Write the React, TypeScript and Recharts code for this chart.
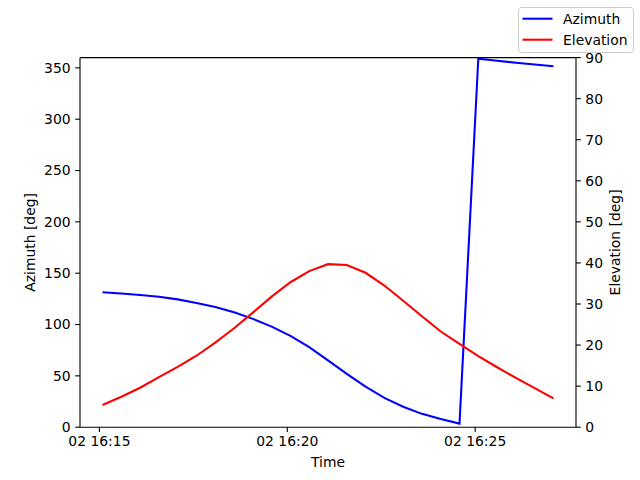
import { LineChart, Line, XAxis, YAxis, ReferenceLine, Legend } from 'recharts'

// sample times (one every 30 s) on day 02
const times = [
  '16:15:05', '16:15:35', '16:16:05', '16:16:35', '16:17:05', '16:17:35', '16:18:05',
  '16:18:35', '16:19:05', '16:19:35', '16:20:05', '16:20:35', '16:21:05', '16:21:35',
  '16:22:05', '16:22:35', '16:23:05', '16:23:35', '16:24:05', '16:24:35', '16:25:05',
  '16:25:35', '16:26:05', '16:26:35', '16:27:05',
]
const azimuth = [
  131.5, 130.3, 128.8, 127, 124.5, 121, 117, 112, 105.5, 98, 89, 78, 65, 52, 39.5,
  28.5, 20, 13, 8, 3.5, 359, 357, 355, 353.3, 351.5,
]
const elevation = [
  5.4, 7.4, 9.6, 12.2, 14.7, 17.4, 20.6, 24.1, 27.9, 31.8, 35.3, 38.0, 39.7, 39.5,
  37.6, 34.5, 30.8, 27.0, 23.3, 20.3, 17.3, 14.6, 12.0, 9.5, 7.0,
]
const timeTicks = [0, 5, 10] // minutes after 16:15
const timeTickLabels = ['02 16:15', '02 16:20', '02 16:25']
const azimuthTicks = [0, 50, 100, 150, 200, 250, 300, 350]
const elevationTicks = [0, 10, 20, 30, 40, 50, 60, 70, 80, 90]

const FONT = 'DejaVu Sans'
const FS = 13.9

// minutes since 16:15:00
const toMinutes = (t: string) => {
  const [h, m, s] = t.split(':').map(Number)
  return h * 60 + m + s / 60 - (16 * 60 + 15)
}

const data = times.map((t, i) => ({
  t: toMinutes(t),
  azimuth: azimuth[i],
  elevation: elevation[i],
}))

const first = data[0].t
const last = data[data.length - 1].t
const pad = (last - first) * 0.05

const tickStyle = { fill: '#000', fontSize: FS, fontFamily: FONT }

const axisTitle = (text: string, dx: number | null, dy: number | null, angle: number) => (props: any) => {
  const vb = props.viewBox
  const cx = dx === null ? vb.x + vb.width / 2 : vb.x + dx
  const cy = dy === null ? vb.y + vb.height / 2 : vb.y + dy
  return (
    <text
      x={cx}
      y={cy}
      transform={angle ? `rotate(${angle} ${cx} ${cy})` : undefined}
      textAnchor="middle"
      dominantBaseline="central"
      fill="#000"
      fontSize={FS}
      fontFamily={FONT}
    >
      {text}
    </text>
  )
}

const LegendBox = (props: any) => {
  const payload = props.payload || []
  return (
    <svg width={116} height={46} style={{ display: 'block' }}>
      <rect x={0.5} y={0.5} width={115} height={45} rx={3} fill="rgba(255,255,255,0.8)" stroke="#cccccc" />
      {payload.map((entry: any, i: number) => (
        <g key={entry.value}>
          <line x1={4.5} x2={34.5} y1={11.7 + i * 21} y2={11.7 + i * 21} stroke={entry.color} strokeWidth={2.08} />
          <text x={45} y={11.7 + i * 21} dominantBaseline="central" fill="#000" fontSize={FS} fontFamily={FONT}>
            {entry.value}
          </text>
        </g>
      ))}
    </svg>
  )
}

export default function App() {
  return (
    <div style={{ position: 'absolute', left: 0, top: 0, width: 640, height: 480, background: '#fff' }}>
      <LineChart
        width={640}
        height={480}
        data={data}
        margin={{ top: 57.6, right: 0, bottom: 0, left: 0 }}
      >
        <XAxis
          dataKey="t"
          type="number"
          domain={[first - pad, last + pad]}
          ticks={timeTicks}
          tickFormatter={(v) => timeTickLabels[timeTicks.indexOf(v)] ?? ''}
          height={52.8}
          tick={tickStyle}
          tickSize={4.86}
          tickMargin={4.5}
          axisLine={{ stroke: '#000', strokeWidth: 1.1 }}
          tickLine={{ stroke: '#000', strokeWidth: 1.1 }}
          allowDataOverflow
          label={{ content: axisTitle('Time', null, 34.5, 0) }}
        />
        <YAxis
          yAxisId="az"
          domain={[0, 360]}
          ticks={azimuthTicks}
          width={80}
          tick={tickStyle}
          tickSize={4.86}
          tickMargin={4.5}
          axisLine={{ stroke: '#000', strokeWidth: 1.1 }}
          tickLine={{ stroke: '#000', strokeWidth: 1.1 }}
          allowDataOverflow
          label={{ content: axisTitle('Azimuth [deg]', 29.7, null, -90) }}
        />
        <YAxis
          yAxisId="el"
          orientation="right"
          domain={[0, 90]}
          ticks={elevationTicks}
          width={64}
          tick={tickStyle}
          tickSize={4.86}
          tickMargin={4.5}
          axisLine={{ stroke: '#000', strokeWidth: 1.1 }}
          tickLine={{ stroke: '#000', strokeWidth: 1.1 }}
          allowDataOverflow
          label={{ content: axisTitle('Elevation [deg]', 39, null, -90) }}
        />
        <ReferenceLine yAxisId="az" y={360} stroke="#000" strokeWidth={1.1} />
        <Line
          yAxisId="az"
          type="linear"
          dataKey="azimuth"
          name="Azimuth"
          stroke="#0000ff"
          strokeWidth={2.08}
          dot={false}
          isAnimationActive={false}
        />
        <Line
          yAxisId="el"
          type="linear"
          dataKey="elevation"
          name="Elevation"
          stroke="#ff0000"
          strokeWidth={2.08}
          dot={false}
          isAnimationActive={false}
        />
        <Legend
          layout="vertical"
          align="center"
          verticalAlign="middle"
          content={LegendBox}
          wrapperStyle={{ top: 7, left: 518, width: 116, height: 46 }}
        />
      </LineChart>
    </div>
  )
}
